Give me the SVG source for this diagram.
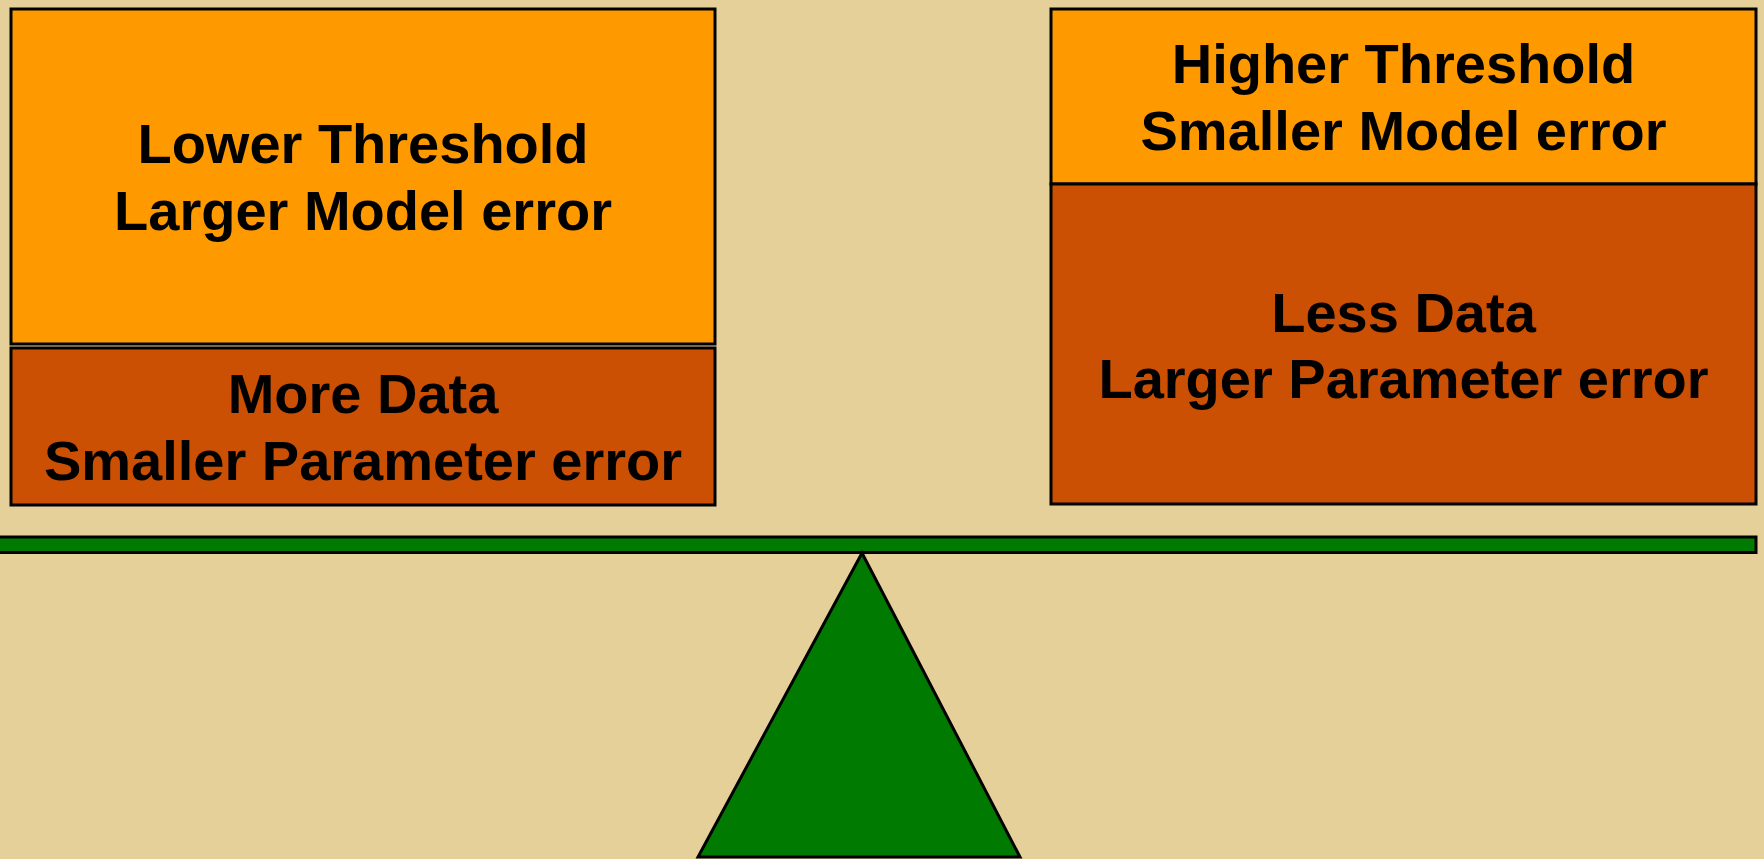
<svg xmlns="http://www.w3.org/2000/svg" width="1764" height="859" viewBox="0 0 1764 859">
  <style>
    .box { stroke: #000; stroke-width: 3; }
    .light { fill: #FF9900; }
    .dark { fill: #CC5004; }
    .beam { fill: #007A00; stroke: #000; stroke-width: 3; }
    .label { font-family: "Liberation Sans", Arial, sans-serif; font-weight: bold; font-size: 56px; fill: #000; text-anchor: middle; }
  </style>
  <rect x="0" y="0" width="1764" height="859" fill="#E5D09A"/>

  <!-- left pan -->
  <g id="lower-threshold">
    <rect class="box light" x="11" y="9" width="704" height="335"/>
    <text class="label" x="363" y="163">Lower Threshold</text>
    <text class="label" x="363" y="230">Larger Model error</text>
  </g>
  <g id="more-data">
    <rect class="box dark" x="11" y="348" width="704" height="157"/>
    <text class="label" x="363" y="413">More Data</text>
    <text class="label" x="363" y="480">Smaller Parameter error</text>
  </g>

  <!-- right pan -->
  <g id="higher-threshold">
    <rect class="box light" x="1051" y="9" width="705" height="175"/>
    <text class="label" x="1403.5" y="83">Higher Threshold</text>
    <text class="label" x="1403.5" y="150">Smaller Model error</text>
  </g>
  <g id="less-data">
    <rect class="box dark" x="1051" y="184" width="705" height="320"/>
    <text class="label" x="1403.5" y="332">Less Data</text>
    <text class="label" x="1403.5" y="398">Larger Parameter error</text>
  </g>

  <!-- balance beam and fulcrum -->
  <g id="balance">
    <rect id="beam" class="beam" x="-3" y="537" width="1759" height="15.5"/>
    <polygon id="fulcrum" class="beam" points="862,553 698,857 1020,857"/>
  </g>
</svg>
